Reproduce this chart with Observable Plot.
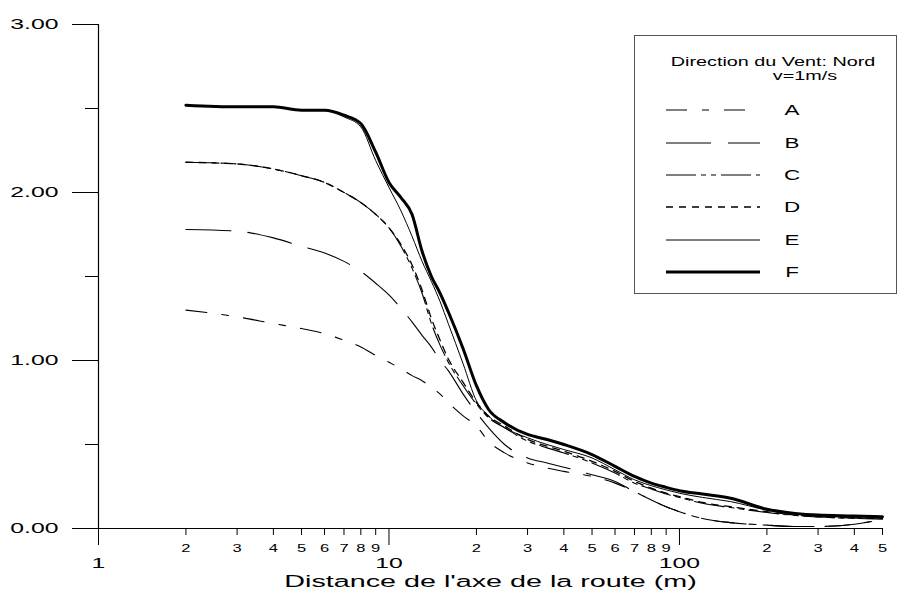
<!DOCTYPE html>
<html><head><meta charset="utf-8">
<script src="https://cdn.jsdelivr.net/npm/d3@7"></script>
<script src="https://cdn.jsdelivr.net/npm/@observablehq/plot@0.6"></script>
<style>
body{margin:0;background:#fff;}
#chart{position:relative;width:899px;height:592px;}
</style></head><body><div id="chart"></div>
<script>
// ---- data ----
const distances = [2,3,4,5,6,7,8,9,10,11,12,13,14,15,16,18,20,22,25,30,35,40,50,60,70,80,90,100,120,150,200,250,300,400,500];
const valuesA = [1.30,1.26,1.22,1.19,1.16,1.12,1.08,1.03,0.99,0.95,0.91,0.88,0.84,0.80,0.75,0.67,0.61,0.52,0.45,0.39,0.36,0.34,0.31,0.27,0.22,0.17,0.13,0.10,0.06,0.035,0.02,0.012,0.012,0.025,0.055];
const valuesB = [1.78,1.77,1.73,1.68,1.64,1.59,1.53,1.46,1.39,1.31,1.23,1.15,1.08,1.00,0.94,0.80,0.69,0.60,0.50,0.42,0.39,0.365,0.32,0.28,0.22,0.17,0.13,0.10,0.06,0.035,0.02,0.012,0.012,0.025,0.06];
const valuesC = [2.18,2.17,2.14,2.10,2.06,2.00,1.94,1.87,1.79,1.68,1.55,1.40,1.22,1.09,0.99,0.85,0.74,0.66,0.60,0.52,0.48,0.45,0.39,0.33,0.27,0.235,0.205,0.185,0.15,0.125,0.095,0.078,0.068,0.06,0.055];
const valuesD = [2.18,2.17,2.14,2.10,2.06,2.00,1.94,1.87,1.79,1.69,1.57,1.42,1.25,1.12,1.01,0.87,0.75,0.67,0.61,0.53,0.49,0.46,0.40,0.34,0.28,0.24,0.21,0.19,0.155,0.13,0.10,0.08,0.07,0.062,0.06];
const valuesE = [2.52,2.51,2.51,2.49,2.49,2.45,2.39,2.19,2.03,1.89,1.74,1.59,1.47,1.35,1.22,0.98,0.76,0.67,0.60,0.54,0.50,0.47,0.42,0.35,0.29,0.255,0.23,0.21,0.185,0.16,0.11,0.085,0.075,0.065,0.06];
const valuesF = [2.52,2.51,2.51,2.49,2.49,2.46,2.41,2.24,2.06,1.97,1.87,1.65,1.50,1.40,1.29,1.07,0.85,0.71,0.63,0.56,0.53,0.50,0.44,0.37,0.31,0.27,0.245,0.225,0.205,0.18,0.115,0.09,0.08,0.075,0.07];
const classes = ["A","B","C","D","E","F"];
const yTicks = [0,1,2,3];
const yMinorTicks = [0.5,1.5,2.5];
const xMajorTicks = [1,10,100];
const xMinorTicks = [2,3,4,5,6,7,8,9,20,30,40,50,60,70,80,90,200,300,400,500];
const legendTitle = ["Direction du Vent: Nord","v=1m/s"];
const xLabel = "Distance de l'axe de la route (m)";

// ---- styles ----
const styleOf = {
  A:{w:1.1, dash:"21,15,7,15"},
  B:{w:1.1, dash:"45,17"},
  C:{w:1.1, dash:"30,5,5,5,5,5"},
  D:{w:1.3, dash:"7,6"},
  E:{w:1.0, dash:null},
  F:{w:3.0, dash:null}
};
const allValues = {A:valuesA,B:valuesB,C:valuesC,D:valuesD,E:valuesE,F:valuesF};
const rows = classes.flatMap(c => distances.map((d,i) => ({x:d, y:allValues[c][i], cls:c})));

const lineMarks = classes.map(c => Plot.line(rows.filter(r => r.cls === c), {
  x:"x", y:"y", stroke:"black", strokeWidth:styleOf[c].w,
  strokeDasharray: styleOf[c].dash || undefined, curve:"monotone-x"
}));

const minorLabel = d => String(Math.round(d / 10 ** Math.floor(Math.log10(d))));

const plot = Plot.plot({
  width: 899, height: 592,
  marginLeft: 98, marginRight: 17, marginTop: 24, marginBottom: 64,
  style: {fontFamily: "'Liberation Sans', Arial, sans-serif", color: "#000", background: "#fff", overflow: "visible"},
  x: {type: "log", domain: [1, 500]},
  y: {domain: [0, 3]},
  marks: [
    Plot.ruleY([0], {stroke:"black", strokeWidth:1.2}),
    Plot.ruleX([1], {stroke:"black", strokeWidth:1.2}),
    Plot.axisY({ticks: yTicks, tickSize: 26, tickPadding: 14, fontSize: 15, tickFormat: d => d.toFixed(2), label: null}),
    Plot.axisY({ticks: yMinorTicks, tickSize: 13, tickFormat: () => "", label: null}),
    Plot.axisX({ticks: xMajorTicks, tickSize: 17, tickPadding: 12, fontSize: 15, tickFormat: d => String(d), label: null}),
    Plot.axisX(xMinorTicks, {tickSpacing: 5, tickSize: 7, tickPadding: 9, fontSize: 10, tickFormat: minorLabel, label: null}),
    ...lineMarks,
    Plot.text([xLabel], {frameAnchor: "bottom", dy: 53, fontSize: 17, lineAnchor: "middle"})
  ]
});

// horizontally stretch all text, as in the reference's wide lettering
d3.select(plot).selectAll("text").each(function() {
  const t = this.getAttribute("transform");
  const s = this.textContent === xLabel ? 1.69 : 1.65;
  if (t) this.setAttribute("transform", t + ` scale(${s},1)`);
});

// ---- legend ----
const svg = d3.select(plot);
const lg = svg.append("g").attr("font-family","'Liberation Sans', Arial, sans-serif");
lg.append("rect").attr("x",634.5).attr("y",35.5).attr("width",262).attr("height",258)
  .attr("fill","white").attr("stroke","#555").attr("stroke-width",1);
lg.append("text").attr("transform","translate(773,66) scale(1.65,1)").attr("text-anchor","middle")
  .attr("font-size",12).text(legendTitle[0]);
lg.append("text").attr("transform","translate(805,80) scale(1.65,1)").attr("text-anchor","middle")
  .attr("font-size",12).text(legendTitle[1]);
const rowY = [110,143,175,207,240,272];
classes.forEach((c,i) => {
  lg.append("line").attr("x1",666).attr("x2",760).attr("y1",rowY[i]).attr("y2",rowY[i])
    .attr("stroke","black").attr("stroke-width",styleOf[c].w)
    .attr("stroke-dasharray", styleOf[c].dash);
  lg.append("text").attr("transform",`translate(792,${rowY[i]+5}) scale(1.6,1)`)
    .attr("font-size",14).text(c);
});

document.getElementById("chart").appendChild(plot);
</script>
</body></html>
